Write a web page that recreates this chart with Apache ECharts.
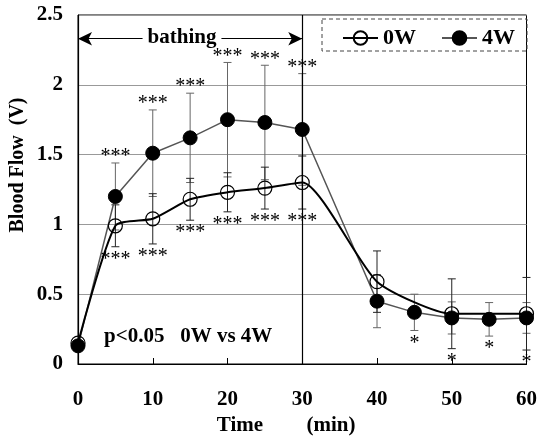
<!DOCTYPE html>
<html>
<head>
<meta charset="utf-8">
<script src="https://cdn.jsdelivr.net/npm/echarts@6/dist/echarts.min.js"></script>
<style>html,body{margin:0;padding:0;background:#fff}#c{width:540px;height:439px}</style>
</head>
<body>
<div id="c"></div>
<script>
// ---- data ----
const times4W = [0, 5, 10, 15, 20, 25, 30, 40, 45, 50, 55, 60];
const mean4W  = [0.13, 1.20, 1.51, 1.62, 1.75, 1.73, 1.68, 0.45, 0.37, 0.33, 0.32, 0.33];
const sd4W    = [0.00, 0.24, 0.31, 0.32, 0.41, 0.41, 0.40, 0.19, 0.13, 0.115, 0.12, 0.11];
const times0W = [0, 5, 10, 15, 20, 25, 30, 40, 50, 60];
const mean0W  = [0.15, 0.99, 1.04, 1.18, 1.23, 1.26, 1.30, 0.59, 0.36, 0.36];
const sd0W    = [0.00, 0.15, 0.18, 0.15, 0.14, 0.15, 0.19, 0.22, 0.25, 0.26];
const sigTimes = [5, 10, 15, 20, 25, 30, 45, 50, 55, 60];
const sigAbove = ['***', '***', '***', '***', '***', '***', '', '', '', ''];
const sigBelow = ['***', '***', '***', '***', '***', '***', '*', '*', '*', '*'];
const yTicks = [0, 0.5, 1, 1.5, 2, 2.5];
const xTicks = [0, 10, 20, 30, 40, 50, 60];
const bathingRange = [0, 30];

const FONT = 'Liberation Serif';

function errData(times, means, sds) {
  return times.map((t, i) => [t, means[i] - sds[i], means[i] + sds[i]]);
}
function sigData() {
  return sigTimes.map((t, k) => {
    let top = -Infinity, bot = Infinity;
    const i4 = times4W.indexOf(t), i0 = times0W.indexOf(t);
    if (i4 >= 0) { top = Math.max(top, mean4W[i4] + sd4W[i4]); bot = Math.min(bot, mean4W[i4] - sd4W[i4]); }
    if (i0 >= 0) { top = Math.max(top, mean0W[i0] + sd0W[i0]); bot = Math.min(bot, mean0W[i0] - sd0W[i0]); }
    return [t, top, bot, k];
  });
}
function errRender(color) {
  return function (params, api) {
    const x = api.value(0);
    const lo = api.coord([x, api.value(1)]);
    const hi = api.coord([x, api.value(2)]);
    const w = 4;
    const st = { stroke: color, lineWidth: 1 };
    return {
      type: 'group',
      children: [
        { type: 'line', shape: { x1: hi[0], y1: hi[1], x2: lo[0], y2: lo[1] }, style: st },
        { type: 'line', shape: { x1: hi[0] - w, y1: hi[1], x2: hi[0] + w, y2: hi[1] }, style: st },
        { type: 'line', shape: { x1: lo[0] - w, y1: lo[1], x2: lo[0] + w, y2: lo[1] }, style: st }
      ]
    };
  };
}

const chart = echarts.init(document.getElementById('c'), null, { renderer: 'canvas' });
chart.setOption({
  backgroundColor: '#fff',
  animation: false,
  grid: { left: 78, right: 10, top: 15, bottom: 75, show: true, borderColor: '#000', borderWidth: 1 },
  xAxis: {
    type: 'value', min: xTicks[0], max: xTicks[xTicks.length - 1], interval: 10,
    axisLine: { lineStyle: { color: '#000', width: 1.2 } },
    axisTick: { show: true, inside: true, length: 6, lineStyle: { color: '#000' } },
    splitLine: { show: false },
    axisLabel: { color: '#000', fontFamily: FONT, fontWeight: 'bold', fontSize: 21, margin: 25 }
  },
  yAxis: {
    type: 'value', min: yTicks[0], max: yTicks[yTicks.length - 1], interval: 0.5,
    axisLine: { show: true, lineStyle: { color: '#000', width: 1.2 } },
    axisTick: { show: false },
    splitLine: { show: true, lineStyle: { color: '#999', width: 1 } },
    axisLabel: { color: '#000', fontFamily: FONT, fontWeight: 'bold', fontSize: 21, margin: 15 }
  },
  legend: {
    data: ['0W', '4W'], left: 337, top: 22, itemWidth: 35, itemHeight: 17, itemGap: 25,
    textStyle: { color: '#000', fontFamily: FONT, fontWeight: 'bold', fontSize: 22 }
  },
  graphic: [
    { type: 'rect', z: 50, shape: { x: 322, y: 19, width: 205, height: 32 },
      style: { fill: 'none', stroke: '#444', lineWidth: 1, lineDash: [4, 3] } },
    { type: 'text', z: 100, x: 182, y: 38,
      style: { text: 'bathing', fill: '#000', font: 'bold 21px "' + FONT + '"', align: 'center', verticalAlign: 'middle',
               backgroundColor: '#fff', padding: [-3, 5] } },
    { type: 'text', x: 18, y: 165, rotation: Math.PI / 2,
      style: { text: 'Blood Flow  (V)', fill: '#000', font: 'bold 20px "' + FONT + '"', align: 'center', verticalAlign: 'middle' } },
    { type: 'text', x: 240, y: 426,
      style: { text: 'Time', fill: '#000', font: 'bold 21px "' + FONT + '"', align: 'center', verticalAlign: 'middle' } },
    { type: 'text', x: 331, y: 426,
      style: { text: '(min)', fill: '#000', font: 'bold 21px "' + FONT + '"', align: 'center', verticalAlign: 'middle' } },
    { type: 'text', x: 104, y: 337,
      style: { text: 'p<0.05   0W vs 4W', fill: '#000', font: 'bold 21px "' + FONT + '"', align: 'left', verticalAlign: 'middle' } }
  ],
  series: [
    { type: 'custom', z: 1, silent: true, data: errData(times4W, mean4W, sd4W), renderItem: errRender('#666') },
    { type: 'custom', z: 1, silent: true, data: errData(times0W, mean0W, sd0W), renderItem: errRender('#222') },
    {
      name: '4W', type: 'line', z: 3, data: times4W.map((t, i) => [t, mean4W[i]]),
      symbol: 'circle', symbolSize: 14,
      lineStyle: { color: '#555', width: 1.5 },
      itemStyle: { color: '#000', borderColor: '#000', borderWidth: 1 },
      markLine: {
        silent: true, symbol: ['none', 'none'], label: { show: false },
        lineStyle: { color: '#000', type: 'solid', width: 1.2 },
        data: [{ xAxis: bathingRange[1] }]
      }
    },
    {
      name: '0W', type: 'line', z: 4, smooth: 0.2, data: times0W.map((t, i) => [t, mean0W[i]]),
      symbol: 'circle', symbolSize: 14,
      lineStyle: { color: '#000', width: 2 },
      itemStyle: { color: 'rgba(0,0,0,0)', borderColor: '#000', borderWidth: 1.2 },
      markLine: {
        silent: true, symbol: ['arrow', 'arrow'], symbolSize: [10, 14], label: { show: false },
        lineStyle: { color: '#000', type: 'solid', width: 1.2 },
        data: [[{ coord: [bathingRange[0], 2.33] }, { coord: [bathingRange[1], 2.33] }]]
      }
    },
    {
      type: 'custom', z: 5, silent: true, data: sigData(),
      renderItem: function (params, api) {
        const x = api.value(0), k = api.value(3);
        const top = api.coord([x, api.value(1)]);
        const bot = api.coord([x, api.value(2)]);
        const ch = [];
        if (sigAbove[k]) ch.push({ type: 'text', x: top[0], y: top[1] + 4,
          style: { text: sigAbove[k], fill: '#000', font: '20px "' + FONT + '"', align: 'center', verticalAlign: 'bottom' } });
        if (sigBelow[k]) ch.push({ type: 'text', x: bot[0], y: bot[1] + 3,
          style: { text: sigBelow[k], fill: '#000', font: '20px "' + FONT + '"', align: 'center', verticalAlign: 'top' } });
        return { type: 'group', children: ch };
      }
    }
  ]
});
</script>
</body>
</html>
